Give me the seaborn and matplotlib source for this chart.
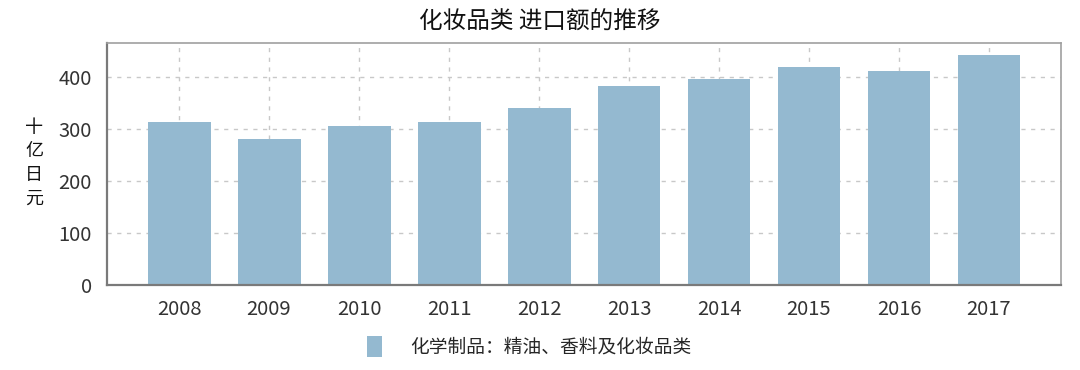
import matplotlib
matplotlib.use("Agg")
import matplotlib.pyplot as plt
import seaborn as sns
import pandas as pd

years = ["2008", "2009", "2010", "2011", "2012", "2013", "2014", "2015", "2016", "2017"]
values = [314, 282, 307, 313, 341, 384, 397, 420, 412, 443]
series_label = "化学制品：精油、香料及化妆品类"
title = "化妆品类 进口额的推移"
ylabel = "十\n亿\n日\n元"
yticks = [0, 100, 200, 300, 400]

sns.set_style("white")
plt.rcParams['font.family'] = ['Noto Sans CJK SC', 'DejaVu Sans']

df = pd.DataFrame({"year": years, "value": values})

fig = plt.figure(figsize=(10.8, 3.7), dpi=100)
ax = fig.add_axes([107/1080, 1 - 285/370, (1061 - 107)/1080, (285 - 43)/370])

bar_color = "#94b9d0"
sns.barplot(data=df, x="year", y="value", color=bar_color, width=0.7,
            saturation=1, ax=ax, label=series_label, edgecolor="none")

ax.set_xlim(-0.8, 9.8)
ax.set_ylim(0, 466)
ax.set_yticks(yticks)
ax.set_axisbelow(True)
ax.grid(True, axis="both", linestyle=(0, (3, 4)), color="#c8c8c8", linewidth=1.0)

for side in ["left", "bottom"]:
    ax.spines[side].set_color("#7a7a7a")
    ax.spines[side].set_linewidth(1.6)
for side in ["top", "right"]:
    ax.spines[side].set_color("#a0a0a0")
    ax.spines[side].set_linewidth(1.2)

ax.tick_params(axis="both", direction="out", length=5, width=1.2, color="#7a7a7a",
               labelsize=14.5, labelcolor="#333333")
for lab in ax.get_xticklabels() + ax.get_yticklabels():
    lab.set_fontweight("medium")
ax.tick_params(axis="x", pad=5)
ax.tick_params(axis="y", pad=6)
ax.set_xlabel("")
ax.set_ylabel("")

fig.text(34/1080, 1 - 163/370, ylabel, ha="center", va="center", fontsize=13,
         linespacing=1.4, color="#111111")
fig.text(540/1080, 1 - 22/370, title, ha="center", va="center", fontsize=17,
         color="#111111")

leg = ax.get_legend()
if leg is not None:
    leg.remove()
handles, labels = ax.get_legend_handles_labels()
fig.legend(handles, labels, loc="center", bbox_to_anchor=(529/1080, 1 - 347/370),
           frameon=False, fontsize=13.5, handlelength=0.78, handleheight=1.3,
           handletextpad=1.5)

fig.savefig("out.png", dpi=100)
